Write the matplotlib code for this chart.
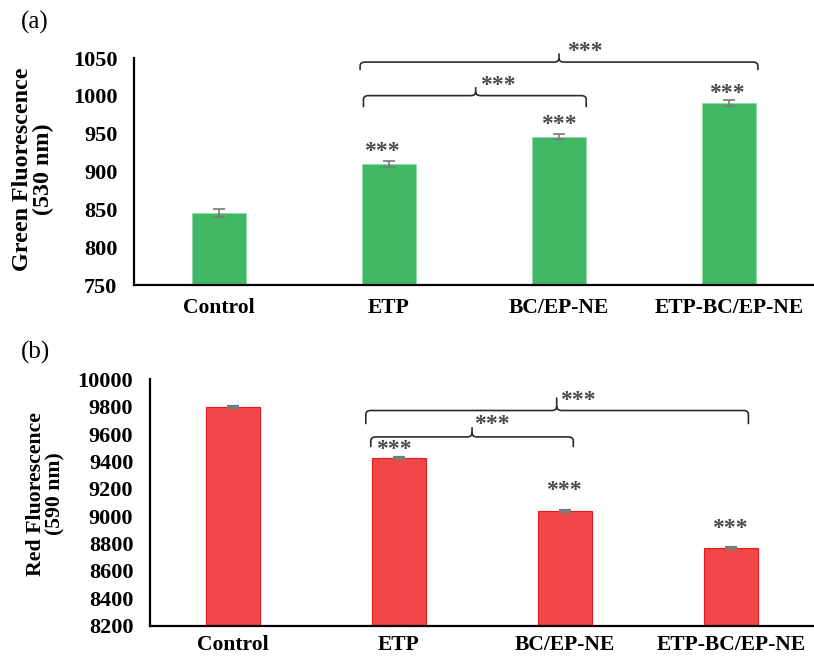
import matplotlib
matplotlib.use("Agg")
import matplotlib.pyplot as plt
import numpy as np
from matplotlib.path import Path
from matplotlib.patches import PathPatch

categories = ["Control", "ETP", "BC/EP-NE", "ETP-BC/EP-NE"]
green_means = [845, 910, 946, 990]
green_err = [5, 4.5, 3, 4]
red_means = [9798, 9424, 9040, 8770]
red_err = [6, 6, 8, 6]

plt.rcParams['font.family'] = ['Liberation Serif', 'DejaVu Serif']

green = '#41b864'
red = '#ef4747'
star_color = '#4a4a4a'


def bracket(ax, x0, x1, xt, y_bar, y_end, y_tip, rx, ry):
    verts = [(x0, y_end), (x0, y_bar - ry), (x0, y_bar), (x0 + rx, y_bar),
             (xt - rx, y_bar), (xt, y_bar), (xt, y_bar + ry), (xt, y_tip),
             (xt, y_bar + ry), (xt, y_bar), (xt + rx, y_bar),
             (x1 - rx, y_bar), (x1, y_bar), (x1, y_bar - ry), (x1, y_end)]
    codes = [Path.MOVETO, Path.LINETO, Path.CURVE3, Path.CURVE3,
             Path.LINETO, Path.CURVE3, Path.CURVE3, Path.LINETO,
             Path.MOVETO, Path.CURVE3, Path.CURVE3,
             Path.LINETO, Path.CURVE3, Path.CURVE3, Path.LINETO]
    ax.add_patch(PathPatch(Path(verts, codes), fill=False, edgecolor='#2b2b2b',
                           linewidth=1.2, clip_on=False))


def stars(ax, x, y):
    ax.text(x, y, "***", ha='center', va='center', fontsize=17, fontweight='bold',
            color=star_color)


def style_axes(ax):
    for s in ['top', 'right']:
        ax.spines[s].set_visible(False)
    for s in ['left', 'bottom']:
        ax.spines[s].set_linewidth(1.6)
    ax.tick_params(axis='y', length=0, labelsize=16, pad=12)
    ax.tick_params(axis='x', length=0, labelsize=15.5)
    for lab in ax.get_xticklabels() + ax.get_yticklabels():
        lab.set_fontweight('bold')


fig = plt.figure(figsize=(8.14, 6.57), dpi=100)
x = np.arange(len(categories))

# ---- (a) green fluorescence
ax1 = fig.add_axes([0.1646, 0.5662, 0.8354, 0.3455])
ax1.bar(x, green_means, width=0.32, color=green, edgecolor='#8fd9a4', linewidth=0.6,
        yerr=green_err, error_kw=dict(ecolor='#7a7a7a', elinewidth=1.2, capsize=4, capthick=1.2))
ax1.set_xlim(-0.5, 3.5)
ax1.set_ylim(750, 1050)
ax1.set_yticks(np.arange(750, 1051, 50))
ax1.set_xticks(x)
ax1.set_xticklabels(categories)
ax1.tick_params(axis='x', pad=9)
style_axes(ax1)
ax1.text(-0.149, 0.51, "Green Fluorescence\n(530 nm)", transform=ax1.transAxes,
         rotation=90, ha='center', va='center', fontsize=17.3, fontweight='bold',
         linespacing=1.0)
fig.text(0.026, 0.966, "(a)", fontsize=18, ha='left', va='center')

stars(ax1, 0.96, 926)
stars(ax1, 2.0, 962)
stars(ax1, 2.99, 1003)
bracket(ax1, 0.85, 2.16, 1.51, 1000.3, 985, 1011.6, 0.03, 5)
stars(ax1, 1.64, 1014)
bracket(ax1, 0.83, 3.17, 2.0, 1044.6, 1034, 1056, 0.03, 5)
stars(ax1, 2.15, 1058)

# ---- (b) red fluorescence
ax2 = fig.add_axes([0.1843, 0.0476, 0.8157, 0.3751])
ax2.bar(x, red_means, width=0.32, color=red, edgecolor='#e8191e', linewidth=0.8,
        yerr=red_err, error_kw=dict(ecolor='#7a7a7a', elinewidth=1.2, capsize=4, capthick=1.6))
ax2.set_xlim(-0.5, 3.5)
ax2.set_ylim(8200, 10000)
ax2.set_yticks(np.arange(8200, 10001, 200))
ax2.set_xticks(x)
ax2.set_xticklabels(categories)
ax2.tick_params(axis='x', pad=7)
style_axes(ax2)
ax2.text(-0.157, 0.535, "Red Fluorescence\n(590 nm)", transform=ax2.transAxes,
         rotation=90, ha='center', va='center', fontsize=15.7, fontweight='bold',
         linespacing=1.0)
fig.text(0.026, 0.463, "(b)", fontsize=18, ha='left', va='center')

stars(ax2, 0.97, 9485)
stars(ax2, 1.99, 9185)
stars(ax2, 2.995, 8910)
bracket(ax2, 0.83, 2.05, 1.44, 9579, 9504, 9650, 0.03, 30)
stars(ax2, 1.56, 9670)
bracket(ax2, 0.80, 3.105, 1.95, 9772, 9672, 9867, 0.03, 30)
stars(ax2, 2.08, 9848)

fig.savefig("out.png", dpi=100, facecolor='white')
